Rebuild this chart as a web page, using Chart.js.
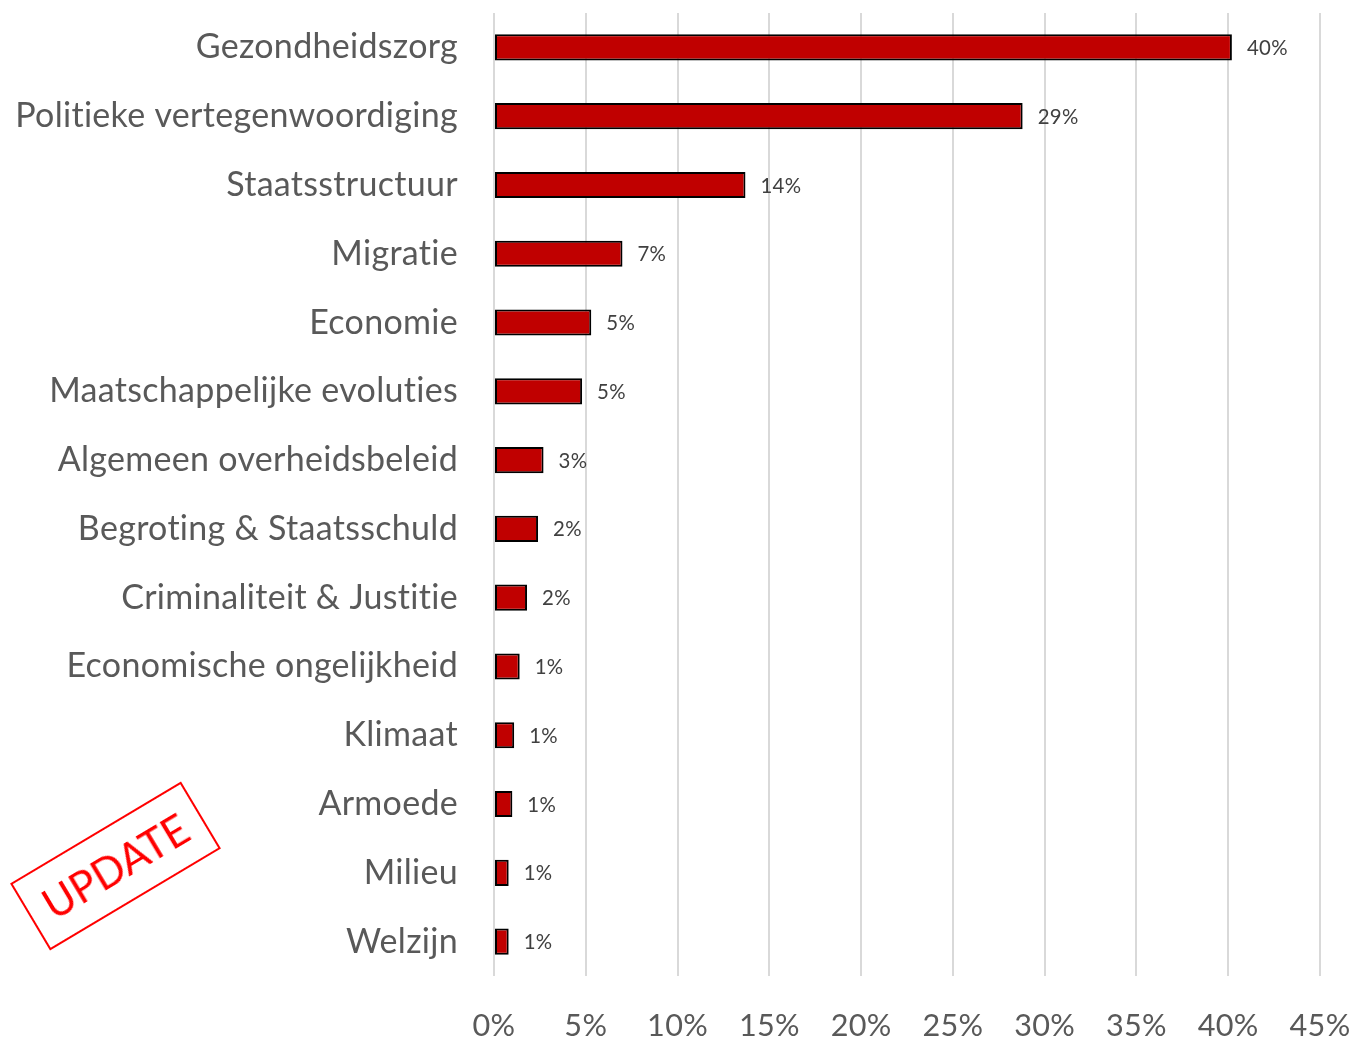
<!DOCTYPE html>
<html>
<head>
<meta charset="utf-8">
<script src="https://cdn.jsdelivr.net/npm/chart.js@4.4.0/dist/chart.umd.min.js"></script>
<style>
  html, body { margin: 0; padding: 0; background: #fff; }
  #wrap { position: relative; width: 1357px; height: 1039px; }
  #chart { display: block; }
  #stamp {
    position: absolute; left: 16px; top: 827px; width: 195px; height: 74px;
    border: 2px solid #ff0000; transform: rotate(-30.8deg);
    color: #ff0000; font-family: Lato, sans-serif; font-size: 42px;
    display: flex; align-items: center; justify-content: center; box-sizing: content-box;
  }
</style>
</head>
<body>
<div id="wrap">
  <canvas id="chart" width="1357" height="1039"></canvas>
  <div id="stamp">UPDATE</div>
</div>
<script>
const categorieen = [
  'Gezondheidszorg', 'Politieke vertegenwoordiging', 'Staatsstructuur', 'Migratie',
  'Economie', 'Maatschappelijke evoluties', 'Algemeen overheidsbeleid',
  'Begroting & Staatsschuld', 'Criminaliteit & Justitie', 'Economische ongelijkheid',
  'Klimaat', 'Armoede', 'Milieu', 'Welzijn'
];
const aandeel = [40.2, 28.8, 13.7, 7.0, 5.3, 4.8, 2.7, 2.4, 1.8, 1.4, 1.1, 1.0, 0.8, 0.8];
const xTicks = [0, 5, 10, 15, 20, 25, 30, 35, 40, 45];

const fontFam = 'Lato, sans-serif';
const spatie = '0.3px';

// lettergrootte zoeken zodat een tekst een bepaalde breedte krijgt
function pasGrootte(tekst, breedte) {
  const c = document.createElement('canvas').getContext('2d');
  c.font = '100px ' + fontFam;
  const w100 = c.measureText(tekst).width;
  const extra = 0.3 * tekst.length;
  return Math.round(100 * (breedte - extra) / w100 * 10) / 10;
}
const catSize = pasGrootte('Politieke vertegenwoordiging', 444);
const tickSize = pasGrootte('45%', 61);
const lblSize = pasGrootte('40%', 41);

// geen "ti"-ligaturen
const geenLigaturen = {
  id: 'geenLigaturen',
  beforeDraw(chart) { chart.ctx.letterSpacing = spatie; }
};

// labels naast de balken
const barLabels = {
  id: 'barLabels',
  afterDatasetsDraw(chart) {
    const ctx = chart.ctx;
    const meta = chart.getDatasetMeta(0);
    ctx.save();
    ctx.font = lblSize + 'px ' + fontFam;
    ctx.fillStyle = '#404040';
    ctx.textBaseline = 'middle';
    ctx.textAlign = 'left';
    meta.data.forEach((bar, i) => {
      ctx.fillText(Math.round(aandeel[i]) + '%', bar.x + 15, bar.y + 1);
    });
    ctx.restore();
  }
};

new Chart(document.getElementById('chart'), {
  type: 'bar',
  data: {
    labels: categorieen,
    datasets: [{
      data: aandeel,
      backgroundColor: '#c00000',
      borderColor: '#000000',
      borderWidth: 2,
      borderSkipped: false,
      categoryPercentage: 1,
      barPercentage: 0.38
    }]
  },
  options: {
    indexAxis: 'y',
    responsive: false,
    animation: false,
    layout: { padding: { top: 13, right: 37, left: 0, bottom: 0 } },
    plugins: { legend: { display: false }, tooltip: { enabled: false } },
    scales: {
      x: {
        min: 0, max: 45,
        afterBuildTicks(axis) { axis.ticks = xTicks.map(v => ({ value: v })); },
        afterFit(axis) {
          axis.height = 63;
          axis.paddingLeft = 0;
          axis.paddingRight = 0;
        },
        grid: { color: '#d9d9d9', lineWidth: 2, drawTicks: false },
        border: { display: false },
        ticks: {
          padding: 32,
          color: '#595959',
          font: { family: fontFam, size: tickSize },
          callback: v => v + '%'
        }
      },
      y: {
        afterFit(axis) {
          axis.width = 494;
          axis.paddingTop = 0;
          axis.paddingBottom = 0;
        },
        grid: { display: false, drawTicks: false },
        border: { display: false },
        ticks: {
          padding: 36,
          color: '#595959',
          font: { family: fontFam, size: catSize }
        }
      }
    }
  },
  plugins: [geenLigaturen, barLabels]
});
</script>
</body>
</html>
